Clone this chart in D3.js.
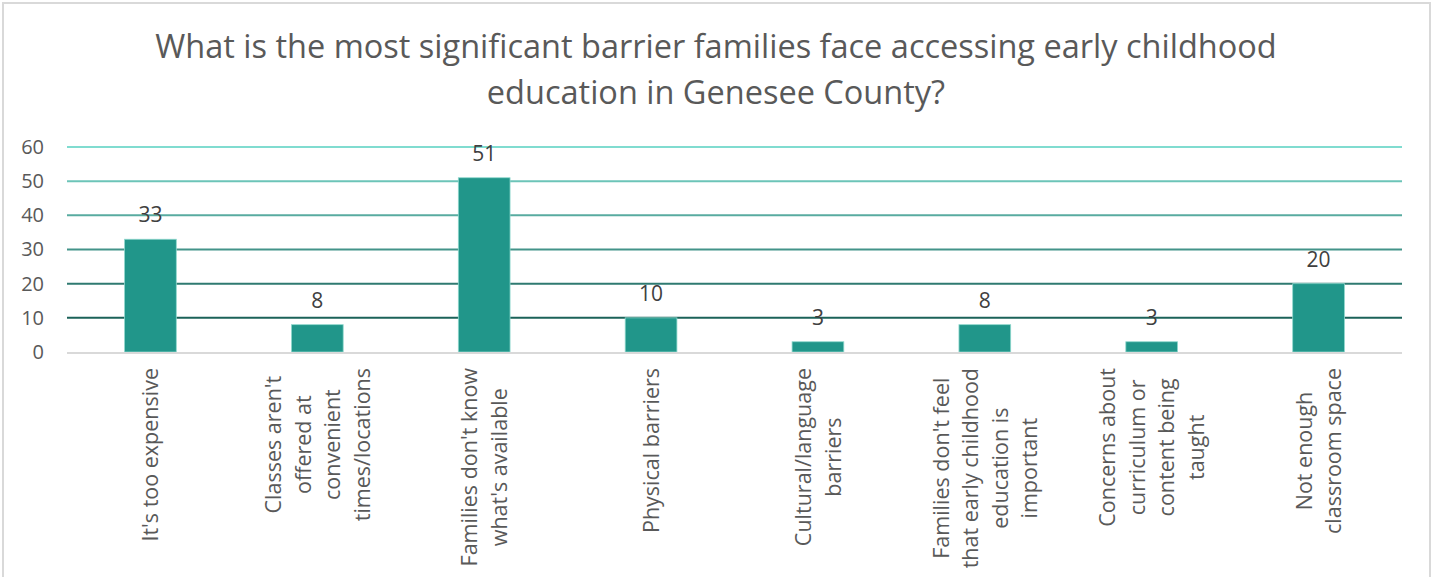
<!DOCTYPE html>
<html>
<head>
<meta charset="utf-8">
<script src="https://cdn.jsdelivr.net/npm/d3@7"></script>
<style>
  html, body { margin: 0; padding: 0; background: #fff; }
  svg { display: block; font-family: "Open Sans", "Noto Sans", sans-serif; }
</style>
</head>
<body>
<svg id="chart" width="1432" height="577"></svg>
<script>
// Survey responses: most significant barrier to early childhood education
const categories = [
  "It's too expensive",
  "Classes aren't offered at convenient times/locations",
  "Families don't know what's available",
  "Physical barriers",
  "Cultural/language barriers",
  "Families don't feel that early childhood education is important",
  "Concerns about curriculum or content being taught",
  "Not enough classroom space"
];
const categoryLines = [
  ["It's too expensive"],
  ["Classes aren't", "offered at", "convenient", "times/locations"],
  ["Families don't know", "what's available"],
  ["Physical barriers"],
  ["Cultural/language", "barriers"],
  ["Families don't feel", "that early childhood", "education is", "important"],
  ["Concerns about", "curriculum or", "content being", "taught"],
  ["Not enough", "classroom space"]
];
const counts = [33, 8, 51, 10, 3, 8, 3, 20];
const yTicks = [0, 10, 20, 30, 40, 50, 60];
const titleLines = [
  "What is the most significant barrier families face accessing early childhood",
  "education in Genesee County?"
];

const W = 1432, H = 577;
const plot = { left: 67, right: 1402, top: 147, bottom: 352 };
const svg = d3.select("#chart");

// Outer chart frame
svg.append("rect")
  .attr("x", 3).attr("y", 3)
  .attr("width", W - 5).attr("height", H + 10)
  .attr("fill", "#fff").attr("stroke", "#d9d9d9").attr("stroke-width", 2);

// Title
svg.append("g").selectAll("text").data(titleLines).join("text")
  .attr("x", 716)
  .attr("y", (d, i) => 58 + i * 46)
  .attr("text-anchor", "middle")
  .attr("font-size", 32.5)
  .attr("fill", "#595959")
  .text(d => d);

const x = d3.scaleBand().domain(categories).range([plot.left, plot.right])
  .paddingInner(0.69).paddingOuter(0.345);
const y = d3.scaleLinear().domain([0, 60]).range([plot.bottom, plot.top]);

// Gridlines shaded from dark (low) to light (high)
const gridColor = d3.scaleLinear()
  .domain([10, 60])
  .range(["#1b6259", "#80dcd0"])
  .interpolate(d3.interpolateRgb);

const yAxis = d3.axisLeft(y).tickValues(yTicks).tickSize(0).tickPadding(0);
const gAxis = svg.append("g").attr("transform", `translate(${plot.left},0)`).call(yAxis);
gAxis.select(".domain").remove();
gAxis.selectAll(".tick text")
  .attr("x", -23)
  .attr("font-size", 20)
  .attr("font-family", "'Open Sans', sans-serif")
  .attr("fill", "#595959");

svg.append("g").selectAll("line").data(yTicks.filter(t => t > 0)).join("line")
  .attr("x1", plot.left).attr("x2", plot.right)
  .attr("y1", d => y(d)).attr("y2", d => y(d))
  .attr("stroke", d => gridColor(d))
  .attr("stroke-width", 2);

// Bars
svg.append("g").selectAll("rect").data(counts).join("rect")
  .attr("x", (d, i) => x(categories[i]))
  .attr("y", d => y(d))
  .attr("width", x.bandwidth())
  .attr("height", d => y(0) - y(d))
  .attr("fill", "#21968a")
  .attr("stroke", "#8fd8cd")
  .attr("stroke-width", 0.8);

// Category axis line
svg.append("line")
  .attr("x1", plot.left).attr("x2", plot.right)
  .attr("y1", y(0) + 1).attr("y2", y(0) + 1)
  .attr("stroke", "#d9d9d9").attr("stroke-width", 2);

// Value labels
svg.append("g").selectAll("text").data(counts).join("text")
  .attr("x", (d, i) => x(categories[i]) + x.bandwidth() / 2)
  .attr("y", d => y(d) - 17)
  .attr("text-anchor", "middle")
  .attr("font-size", 21)
  .attr("fill", "#404040")
  .text(d => d);

// Rotated, multi-line category labels, centred on each band
const lineGap = 29.5;
const labelTop = 368;
const catG = svg.append("g");
categoryLines.forEach((lines, i) => {
  const cx = x(categories[i]) + x.bandwidth() / 2;
  const g = catG.append("g");
  const texts = g.selectAll("text").data(lines).join("text")
    .attr("font-size", 21.5)
    .attr("fill", "#595959")
    .attr("text-anchor", "middle")
    .text(d => d);
  const maxLen = d3.max(texts.nodes(), n => n.getComputedTextLength());
  const cy = labelTop + maxLen / 2;
  const n = lines.length;
  texts.attr("transform", (d, j) => {
    const off = (j - (n - 1) / 2) * lineGap;
    return `translate(${cx + off + 8},${cy}) rotate(-90)`;
  });
});
</script>
</body>
</html>
